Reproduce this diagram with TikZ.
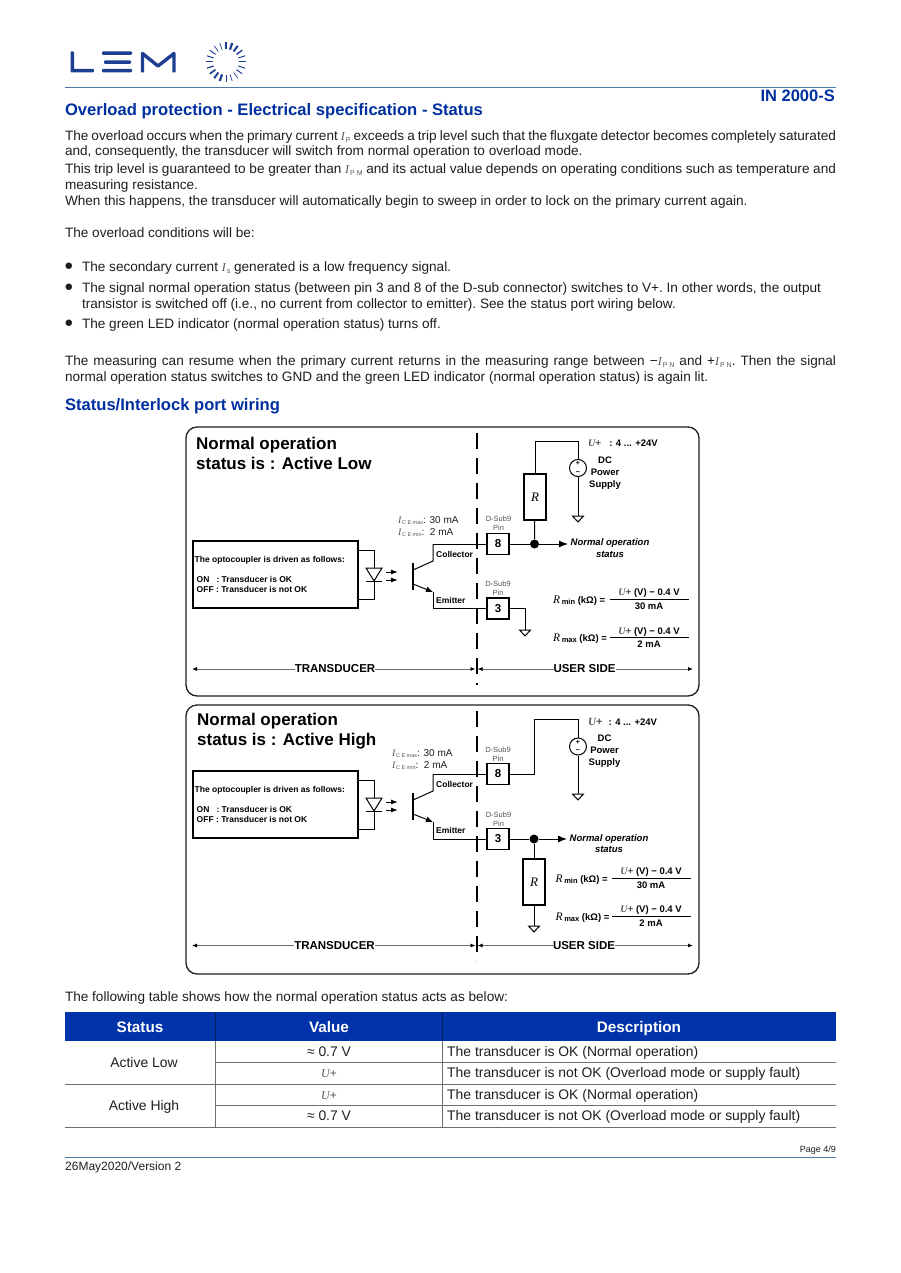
\documentclass[tikz,border=0pt]{standalone}
\usepackage{fontspec}
\setmainfont{Liberation Sans}
\newfontfamily\symfont{Liberation Serif}
\usetikzlibrary{calc,arrows.meta}
\definecolor{lemblue}{RGB}{0,48,160}
\definecolor{logoblue}{RGB}{30,62,145}
\definecolor{headblue}{RGB}{0,51,170}
\definecolor{rulegray}{RGB}{110,110,110}
\definecolor{steel}{RGB}{75,120,165}
\definecolor{ink}{RGB}{30,30,30}
\definecolor{symgray}{RGB}{85,85,85}
\newcommand{\fs}[1]{\fontsize{#1}{#1}\selectfont}
\newcommand{\symI}[3]{{\color{symgray}\fs{#1}\symfont\itshape #2}\raisebox{-1.6pt}{\color{symgray}\fs{5.5}\hspace{.5pt}#3}}
\newcommand{\symB}[2]{{\color{symgray}\fs{12}\symfont\itshape #1}\raisebox{-2pt}{\color{symgray}\fs{7}\hspace{1pt}#2}}
\newcommand{\Up}[1]{{\color{symgray}\fs{#1}\symfont\itshape U}{\color{symgray}\fs{#1}+}}
\newcommand{\jl}[2][771pt]{\makebox[#1][s]{#2}}
\tikzset{
 bodyline/.style={anchor=base west,inner sep=0,outer sep=0,text=ink,font=\fs{13.6}\frenchspacing},
 headline/.style={anchor=base west,inner sep=0,outer sep=0,text=lemblue,font=\fs{16.6}\bfseries},
 panel/.style={draw=ink,line width=1.3pt,rounded corners=11pt},
 divider/.style={line width=2pt,dash pattern=on 16pt off 9pt},
 wire/.style={draw=black,line width=1pt},
 pinbox/.style={draw=black,line width=1.1pt,minimum width=22pt,minimum height=21pt,inner sep=0,font=\fs{11.5}\bfseries},
 resbox/.style={draw=black,line width=1.1pt,minimum width=22pt,minimum height=46pt,inner sep=0,font=\fs{13}\symfont\itshape},
 srcnode/.style={circle,draw=black,line width=1pt,minimum size=17pt,inner sep=0},
 junct/.style={circle,fill=black,minimum size=9pt,inner sep=0},
 lbl/.style={inner sep=0,font=\fs{8.5}\bfseries},
 pinlbl/.style={inner sep=0,align=center,text=symgray,font=\fs{7.5}},
 small/.style={inner sep=0,align=center,font=\fs{9.5}\bfseries},
 span/.style={draw=rulegray,line width=.8pt,{Latex[length=5pt,width=4pt,black]}-{Latex[length=5pt,width=4pt,black]}},
 sidelbl/.style={inner sep=0,fill=white,font=\fs{11.5}\bfseries},
 ptitle/.style={anchor=base west,inner sep=0,font=\fs{17}\bfseries},
 tblhead/.style={anchor=base,inner sep=0,text=white,font=\fs{15.3}\bfseries},
 tblcell/.style={anchor=base,inner sep=0,text=ink,font=\fs{13.9}},
 tblrule/.style={draw=rulegray,line width=1pt},
 dotmark/.style={inner sep=0,text=ink,font=\fs{15}},
}
\begin{document}
\begin{tikzpicture}[x=1pt,y=-1pt]
\useasboundingbox[fill=white] (0,0) rectangle (900,1273);

\fill[logoblue,rounded corners=1pt] (70.5,51.5) rectangle (74,72.5) (70.5,69) rectangle (94,72.5);
\fill[logoblue,rounded corners=1pt] (102,51.5) rectangle (132,55) (104,60.5) rectangle (131,64) (102,69) rectangle (132,72.5);
\draw[logoblue,line width=3.4pt,line join=round] (142.5,72.5) -- (142.5,53.5) -- (158,66) -- (174,53.5) -- (174,72.5);
\foreach \a/\w in {0/1,18/1,36/1.4,54/2,72/2.2,90/1.1,108/.7,126/.7,144/1,162/1,180/1,198/1.2,216/1.7,234/2,252/2.2,270/1,288/.7,306/.7,324/1,342/1}
 \draw[logoblue,line width=\w pt] (226,62)++(-\a:13) -- ++(-\a:7);

\coordinate (headL) at (65,88);
\coordinate (headR) at (836,88);
\draw[steel,line width=1pt] (headL) -- (headR);
\node[anchor=base east,inner sep=0,text=lemblue,font=\fs{16.5}\bfseries] (model) at (835,102) {IN 2000-S};
\node[headline] (title) at (65,115.5) {Overload protection - Electrical specification - Status};

\node[bodyline] (t1) at (65,140.5) {\jl{The overload occurs when the primary current \symB{I}{P} exceeds a trip level such that the fluxgate detector becomes completely saturated}};
\node[bodyline] (t2) at (65,156) {and, consequently, the transducer will switch from normal operation to overload mode.};
\node[bodyline] (t3) at (65,173.5) {\jl{This trip level is guaranteed to be greater than \symB{I}{P M} and its actual value depends on operating conditions such as temperature and}};
\node[bodyline] (t4) at (65,189.5) {measuring resistance.};
\node[bodyline] (t5) at (65,205.5) {When this happens, the transducer will automatically begin to sweep in order to lock on the primary current again.};
\node[bodyline] (t6) at (65,238) {The overload conditions will be:};
\node[dotmark] (b1) at (69,267) {●};
\node[bodyline] (t7) at (82,271.5) {The secondary current \symB{I}{s} generated is a low frequency signal.};
\node[dotmark] (b2) at (69,288) {●};
\node[bodyline] (t8) at (82,292) {\jl[739pt]{The signal normal operation status (between pin 3 and 8 of the D-sub connector) switches to V+. In other words, the output}};
\node[bodyline] (t9) at (82,308.5) {transistor is switched off (i.e., no current from collector to emitter). See the status port wiring below.};
\node[dotmark] (b3) at (69,324) {●};
\node[bodyline] (t10) at (82,328.5) {The green LED indicator (normal operation status) turns off.};
\node[bodyline] (t11) at (65,365.5) {\jl{The measuring can resume when the primary current returns in the measuring range between −\symB{I}{P N} and +\symB{I}{P N}. Then the signal}};
\node[bodyline] (t12) at (65,381.5) {normal operation status switches to GND and the green LED indicator (normal operation status) is again lit.};
\node[headline] (wiring) at (65,410.5) {Status/Interlock port wiring};

\draw[panel] (186,427) rectangle (699,696);
\draw[panel] (186,705) rectangle (699,974);
\node[ptitle] (lowA) at (196,449) {Normal operation};
\node[ptitle] (lowB) at (196,469) {status is : Active Low};
\node[ptitle] (highA) at (197,725) {Normal operation};
\node[ptitle] (highB) at (197,745) {status is : Active High};

\foreach \n/\dy in {a/0,b/230}
{
\begin{scope}[shift={(0,\dy)}]
\node[draw=black,line width=1.1pt,minimum width=165pt,minimum height=67pt,inner sep=0] (opt\n) at (275.5,574.5) {};
\node[lbl,anchor=base west] (optA\n) at (194.5,562) {The optocoupler is driven as follows:};
\node[lbl,anchor=base west] (optB\n) at (196.5,582) {ON\ \ \ : Transducer is OK};
\node[lbl,anchor=base west] (optC\n) at (196.5,592.5) {OFF : Transducer is not OK};
\coordinate (ledT\n) at (374,568);
\coordinate (ledB\n) at (374,581);
\draw[wire] (358,550) -- (374,550) -- (ledT\n);
\draw[wire] (ledB\n) -- (374,599) -- (358,599);
\draw[wire] (366,568) -- (382,568) -- (ledB\n) -- cycle;
\draw[wire] (366,581) -- (382,581);
\draw[wire,-{Latex[length=7pt,width=5pt]}] (386,572) -- (398,572);
\draw[wire,-{Latex[length=7pt,width=5pt]}] (386,580) -- (398,580);
\draw[line width=1.3pt] (413,562.5) -- (413,590);
\coordinate (col\n) at (433,561);
\coordinate (emi\n) at (433,592);
\draw[wire] (413,570) -- (col\n) -- (433,544);
\draw[wire,-{Latex[length=7pt,width=6pt]}] (413,584) -- (emi\n);
\draw[wire] (emi\n) -- (433,608.5);
\node[lbl,anchor=base west] (colT\n) at (436,557.5) {Collector};
\node[lbl,anchor=base west] (emiT\n) at (436,603.5) {Emitter};
\end{scope}
}

\draw[divider] (476.5,433) -- (476.5,685);
\draw[divider] (476.5,711) -- (476.5,961);

\node[inner sep=0,align=left,font=\fs{10},text=ink,anchor=base west] (iceA) at (398,523) {\symI{10}{I}{C E max}: 30 mA};
\node[inner sep=0,align=left,font=\fs{10},text=ink,anchor=base west] (iceB) at (398,535) {\symI{10}{I}{C E min}:\ \ 2 mA};
\node[inner sep=0,align=left,font=\fs{10},text=ink,anchor=base west] (iceC) at (392,756) {\symI{10}{I}{C E max}: 30 mA};
\node[inner sep=0,align=left,font=\fs{10},text=ink,anchor=base west] (iceD) at (392,768) {\symI{10}{I}{C E min}:\ \ 2 mA};

\node[pinbox] (low8) at (498,544) {8};
\node[pinbox] (low3) at (498,608.5) {3};
\node[pinlbl] (low8T) at (498.5,523.5) {D-Sub9\\[1.5pt]Pin};
\node[pinlbl] (low3T) at (498,588.5) {D-Sub9\\[1.5pt]Pin};
\draw[wire] (433,544) -- (low8);
\draw[wire] (433,608.5) -- (low3);
\node[junct] (lowJ) at (534.5,544) {};
\node[resbox] (lowR) at (535,497) {R};
\node[srcnode] (lowS) at (578,468) {};
\node[inner sep=0,font=\fs{7}\bfseries] at (578,463.5) {+};
\node[inner sep=0,font=\fs{7}\bfseries] at (578,473) {−};
\coordinate (lowTop) at (535,441);
\coordinate (lowG) at (578,516);
\coordinate (lowH) at (525,630);
\coordinate (lowK) at (525,608.5);
\coordinate (lowOut) at (568,544);
\draw[wire] (low8) -- (lowJ);
\draw[wire,-{Latex[length=9pt,width=7pt]}] (lowJ) -- (lowOut);
\draw[wire] (lowJ) -- (lowR);
\draw[wire] (lowR) -- (lowTop) -- (578,441) -- (lowS);
\draw[wire] (lowS) -- (lowG);
\draw[wire] (lowG) ++(-5.5,0) -- ++(11,0) -- ++(-5.5,6) -- cycle;
\draw[wire] (low3) -- (lowK) -- (lowH);
\draw[wire] (lowH) ++(-5.5,0) -- ++(11,0) -- ++(-5.5,6) -- cycle;
\node[small,anchor=base west] (lowU) at (588,446) {\Up{10}\hspace{8pt}: 4 ... +24V};
\node[small] (lowDC) at (605,473) {DC\\[2.2pt]Power\\[2.2pt]Supply};
\node[small,font=\fs{9.5}\bfseries\itshape] (lowNos) at (610,548) {Normal operation\\[2pt]status};

\node[pinbox] (high8) at (498,774) {8};
\node[pinbox] (high3) at (498,839) {3};
\node[pinlbl] (high8T) at (498,754.5) {D-Sub9\\[1.5pt]Pin};
\node[pinlbl] (high3T) at (498.5,819.5) {D-Sub9\\[1.5pt]Pin};
\draw[wire] (433,774) -- (high8);
\draw[wire] (433,839) -- (high3);
\node[junct] (highJ) at (534,839) {};
\node[resbox] (highR) at (534,882) {R};
\node[srcnode] (highS) at (578,746.5) {};
\node[inner sep=0,font=\fs{7}\bfseries] at (578,742) {+};
\node[inner sep=0,font=\fs{7}\bfseries] at (578,751.5) {−};
\coordinate (highTop) at (534,719);
\coordinate (highBend) at (534,774);
\coordinate (highG) at (578,794);
\coordinate (highH) at (534,926);
\coordinate (highOut) at (567,839);
\draw[wire] (high8) -- (highBend) -- (highTop) -- (578,719) -- (highS);
\draw[wire] (highS) -- (highG);
\draw[wire] (highG) ++(-5.5,0) -- ++(11,0) -- ++(-5.5,6) -- cycle;
\draw[wire] (high3) -- (highJ);
\draw[wire,-{Latex[length=9pt,width=7pt]}] (highJ) -- (highOut);
\draw[wire] (highJ) -- (highR);
\draw[wire] (highR) -- (highH);
\draw[wire] (highH) ++(-5.5,0) -- ++(11,0) -- ++(-5.5,6) -- cycle;
\node[small,anchor=base west] (highU) at (588,725) {\Up{11}\hspace{6pt}: 4 ... +24V};
\node[small] (highDC) at (604.5,751) {DC\\[2.2pt]Power\\[2.2pt]Supply};
\node[small,font=\fs{9.5}\bfseries\itshape] (highNos) at (609,843.5) {Normal operation\\[2pt]status};

\foreach \n/\x/\y/\xf/\sb/\den in {fa/553/599/649/min/30 mA,fb/553/637.5/649/max/2 mA,fc/555.5/878/651/min/30 mA,fd/555.5/916/651/max/2 mA}
{
\node[small,anchor=west] (\n L) at (\x,\y+1.5) {{\fs{11.5}\symfont\mdseries\itshape R}\,\raisebox{-1pt}{\fs{7.5}\sb} (kΩ) =};
\node[small] (\n T) at (\xf,\y-5.5) {\Up{10} (V) − 0.4 V};
\node[small] (\n B) at (\xf,\y+7) {\den};
\draw[line width=.9pt] (\xf-39.5,\y) -- (\xf+39.5,\y);
}

\coordinate (spanA) at (192,669);
\coordinate (spanB) at (475.5,669);
\coordinate (spanC) at (477.5,669);
\coordinate (spanD) at (693,669);
\draw[span] (spanA) -- (spanB);
\draw[span] (spanC) -- (spanD);
\node[sidelbl] (trA) at (335,669) {TRANSDUCER};
\node[sidelbl] (usA) at (584.5,669) {USER SIDE};
\coordinate (spanE) at (192,945.5);
\coordinate (spanF) at (475.5,945.5);
\coordinate (spanG) at (477.5,945.5);
\coordinate (spanH) at (693,945.5);
\draw[span] (spanE) -- (spanF);
\draw[span] (spanG) -- (spanH);
\node[sidelbl] (trB) at (334.5,945.5) {TRANSDUCER};
\node[sidelbl] (usB) at (584,945.5) {USER SIDE};

\node[bodyline] (t13) at (65,1001) {The following table shows how the normal operation status acts as below:};

\fill[headblue] (65,1012) rectangle (836,1041);
\draw[lemblue!60!black,line width=.6pt] (215.5,1012) -- (215.5,1041) (442,1012) -- (442,1041);
\node[tblhead] (hS) at (140,1032.5) {Status};
\node[tblhead] (hV) at (329,1032.5) {Value};
\node[tblhead] (hD) at (639,1032.5) {Description};
\draw[tblrule] (215.5,1041) -- (215.5,1127.5) (442,1041) -- (442,1127.5);
\draw[tblrule] (215.5,1062.5) -- (836,1062.5) (215.5,1105.5) -- (836,1105.5);
\draw[tblrule] (65,1084) -- (836,1084) (65,1127) -- (836,1127);
\node[tblcell] (sL) at (144,1067) {Active Low};
\node[tblcell] (sH) at (144,1110) {Active High};
\foreach \n/\y/\v/\d in {r1/1056/{≈ 0.7 V}/{The transducer is OK (Normal operation)},r2/1077.5/{\Up{12}}/{The transducer is not OK (Overload mode or supply fault)},r3/1099/{\Up{12}}/{The transducer is OK (Normal operation)},r4/1120.5/{≈ 0.7 V}/{The transducer is not OK (Overload mode or supply fault)}}
{
\node[tblcell] (\n v) at (329,\y) {\v};
\node[tblcell,anchor=base west] (\n d) at (447,\y) {\d};
}

\node[anchor=base east,inner sep=0,text=ink,font=\fs{9}] (page) at (836,1152) {Page 4/9};
\coordinate (footL) at (65,1157);
\coordinate (footR) at (836,1157);
\draw[steel,line width=1pt] (footL) -- (footR);
\node[anchor=base west,inner sep=0,text=ink,font=\fs{12}] (date) at (65,1170) {26May2020/Version 2};
\end{tikzpicture}
\end{document}
